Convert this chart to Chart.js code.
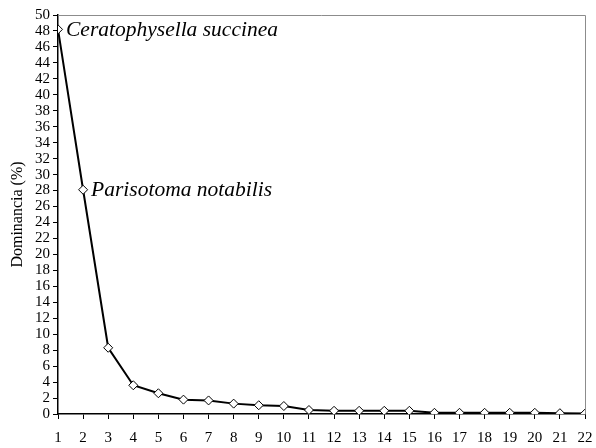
<!DOCTYPE html>
<html>
<head>
<meta charset="utf-8">
<script src="https://cdn.jsdelivr.net/npm/chart.js@4"></script>
<style>
  html, body { margin: 0; padding: 0; background: #fff; }
  #wrap { width: 596px; height: 448px; }
</style>
</head>
<body>
<div id="wrap"><canvas id="chart" width="596" height="448"></canvas></div>
<script>
// species rank (x) and dominance in % (y)
const ranks = [1, 2, 3, 4, 5, 6, 7, 8, 9, 10, 11, 12, 13, 14, 15, 16, 17, 18, 19, 20, 21, 22];
const dominance = [48.2, 28.1, 8.3, 3.6, 2.6, 1.8, 1.7, 1.3, 1.1, 1.0, 0.5, 0.4, 0.4, 0.4, 0.4, 0.15, 0.15, 0.15, 0.15, 0.15, 0.1, 0.05];
const speciesLabels = [
    { rank: 1, name: 'Ceratophysella succinea' },
    { rank: 2, name: 'Parisotoma notabilis' }
];

const serif = '"Liberation Serif", "DejaVu Serif", serif';

// gray frame on top and right, species names next to their points
const extras = {
    id: 'extras',
    afterDatasetsDraw(chart) {
        const { ctx, chartArea: a, scales } = chart;
        ctx.save();
        ctx.strokeStyle = '#8c8c8c';
        ctx.lineWidth = 1;
        ctx.beginPath();
        ctx.moveTo(a.left, a.top + 0.5);
        ctx.lineTo(a.right + 0.5, a.top + 0.5);
        ctx.lineTo(a.right + 0.5, a.bottom);
        ctx.stroke();

        ctx.fillStyle = '#000';
        ctx.font = 'italic 21.5px ' + serif;
        ctx.textBaseline = 'middle';
        speciesLabels.forEach(s => {
            const x = scales.x.getPixelForValue(s.rank);
            const y = scales.y.getPixelForValue(dominance[s.rank - 1]);
            ctx.fillText(s.name, x + 8, y + 1);
        });
        ctx.restore();
    }
};

new Chart(document.getElementById('chart'), {
    type: 'line',
    data: {
        datasets: [{
            data: ranks.map((r, i) => ({ x: r, y: dominance[i] })),
            borderColor: '#000',
            borderWidth: 2,
            pointStyle: 'rectRot',
            pointRadius: 4.5,
            pointBackgroundColor: '#fff',
            pointBorderColor: '#000',
            pointBorderWidth: 1,
            tension: 0
        }]
    },
    options: {
        responsive: false,
        animation: false,
        layout: { padding: { left: 0, right: 11, top: 15, bottom: 0 } },
        plugins: { legend: { display: false }, tooltip: { enabled: false } },
        scales: {
            x: {
                type: 'linear',
                min: 1,
                max: 22,
                afterFit(scale) {
                    scale.height = 34;
                    scale.paddingLeft = 0;
                    scale.paddingRight = 0;
                },
                ticks: { stepSize: 1, color: '#000', padding: 10, maxRotation: 0, autoSkip: false, font: { family: serif, size: 15 } },
                grid: { drawOnChartArea: false, drawTicks: true, tickLength: 5, color: '#000' },
                border: { color: '#000', width: 1.5 }
            },
            y: {
                min: 0,
                max: 50,
                afterFit(scale) {
                    scale.width = 58;
                    scale.paddingTop = 0;
                    scale.paddingBottom = 0;
                },
                ticks: { stepSize: 2, autoSkip: false, color: '#000', padding: 3, font: { family: serif, size: 15 } },
                grid: { drawOnChartArea: false, drawTicks: true, tickLength: 5, color: '#000' },
                border: { color: '#000', width: 1.5 },
                title: { display: true, text: 'Dominancia (%)', color: '#000', padding: { top: 8, bottom: 0 }, font: { family: serif, size: 16 } }
            }
        }
    },
    plugins: [extras]
});
</script>
</body>
</html>
